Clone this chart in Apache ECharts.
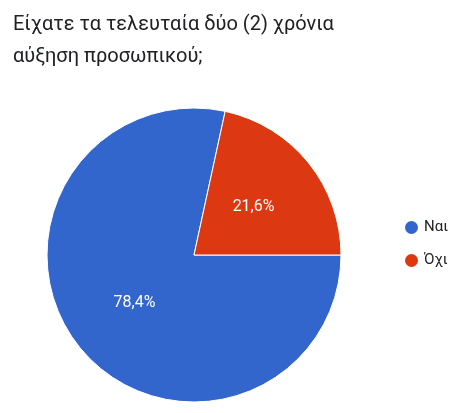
<!DOCTYPE html>
<html><head><meta charset="utf-8">
<script src="https://cdn.jsdelivr.net/npm/echarts@6/dist/echarts.min.js"></script>
<style>html,body{margin:0;padding:0;background:#fff}#c{width:472px;height:413px}</style>
</head><body><div id="c"></div>
<script>
const categories = ["Ναι", "Όχι"];
const values = [78.4, 21.6];
const colors = ["#3366cc", "#dc3912"];
const chart = echarts.init(document.getElementById('c'));
chart.setOption({
  animation: false,
  title: {
    text: "Είχατε τα τελευταία δύο (2) χρόνια\nαύξηση προσωπικού;",
    left: 8, top: 4,
    textStyle: {fontFamily: "Roboto", fontSize: 20, fontWeight: "normal", color: "#202124", lineHeight: 32}
  },
  legend: {
    orient: "vertical", left: 398, top: 214, icon: "circle", itemWidth: 15, itemHeight: 15, itemGap: 16,
    textStyle: {fontFamily: "Roboto", fontSize: 15, color: "#222"},
    data: categories
  },
  series: [{
    type: "pie", center: [194, 255], radius: 147, startAngle: 0, clockwise: true,
    label: {position: "inside", formatter: p => p.value.toFixed(1).replace('.', ',') + '%', color: "#fff", fontFamily: "Roboto", fontSize: 16},
    labelLine: {show: false},
    itemStyle: {borderColor: "#fff", borderWidth: 1},
    data: categories.map((c, i) => ({name: c, value: values[i], itemStyle: {color: colors[i]}}))
  }]
});
</script></body></html>
